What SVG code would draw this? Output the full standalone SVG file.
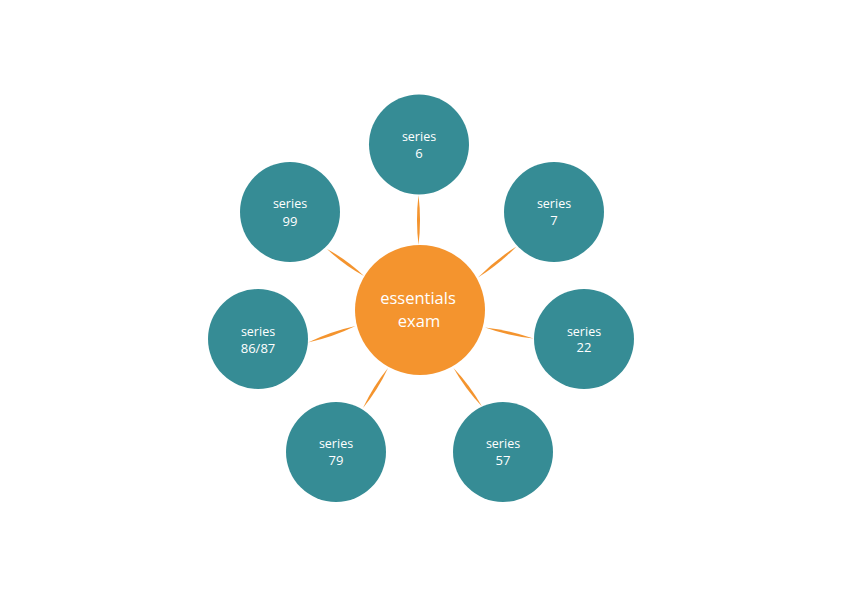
<svg xmlns="http://www.w3.org/2000/svg" width="842" height="596" viewBox="0 0 842 596">
<style>
.sat{fill:#368c95}
.hub{fill:#f4942e}
.t{font-family:"Open Sans","Noto Sans",sans-serif;fill:#ffffff;text-anchor:middle}
.s{font-size:12.5px}
.n{font-size:13px}
.c{font-size:16.5px}
.cn{fill:#f4942e}
</style>
<rect width="842" height="596" fill="#ffffff"/>
<g id="connectors">
<path class="cn" d="M418.5,195 Q421.5,220 418.5,245 Q415.5,220 418.5,195Z"/>
<path class="cn" d="M516.5,246.5 Q499.1,264.3 478,277.5 Q495.4,259.7 516.5,246.5Z"/>
<path class="cn" d="M485,327.5 Q508.6,335.9 533.5,338.5 Q509.9,330.1 485,327.5Z"/>
<path class="cn" d="M453.5,368 Q465.3,389 482,406.5 Q470.2,385.5 453.5,368Z"/>
<path class="cn" d="M388,368 Q378,389.6 363,408 Q373,386.4 388,368Z"/>
<path class="cn" d="M355.5,326 Q332.7,337.1 308,342.5 Q330.8,331.4 355.5,326Z"/>
<path class="cn" d="M327,249 Q343.7,264.9 364,276 Q347.3,260.1 327,249Z"/>
</g>
<g id="hub">
<circle class="hub" cx="420" cy="310" r="65"/>
<text class="t c" x="418" y="304">essentials</text>
<text class="t c" x="419" y="327">exam</text>
</g>
<g id="n6">
<circle class="sat" cx="419" cy="144.5" r="50"/>
<text class="t s" x="419" y="140.5">series</text>
<text class="t n" x="419" y="157.5">6</text>
</g>
<g id="n7">
<circle class="sat" cx="554" cy="212" r="50"/>
<text class="t s" x="554" y="208">series</text>
<text class="t n" x="554" y="225">7</text>
</g>
<g id="n22">
<circle class="sat" cx="584" cy="339" r="50"/>
<text class="t s" x="584" y="335.5">series</text>
<text class="t n" x="584" y="352">22</text>
</g>
<g id="n57">
<circle class="sat" cx="503" cy="452" r="50"/>
<text class="t s" x="503" y="447.5">series</text>
<text class="t n" x="503" y="465">57</text>
</g>
<g id="n79">
<circle class="sat" cx="336" cy="452" r="50"/>
<text class="t s" x="336" y="447.5">series</text>
<text class="t n" x="336" y="465">79</text>
</g>
<g id="n8687">
<circle class="sat" cx="258" cy="339" r="50"/>
<text class="t s" x="258" y="335.5">series</text>
<text class="t n" x="258" y="352.5">86/87</text>
</g>
<g id="n99">
<circle class="sat" cx="290" cy="212" r="50"/>
<text class="t s" x="290" y="208">series</text>
<text class="t n" x="290" y="226">99</text>
</g>
</svg>
